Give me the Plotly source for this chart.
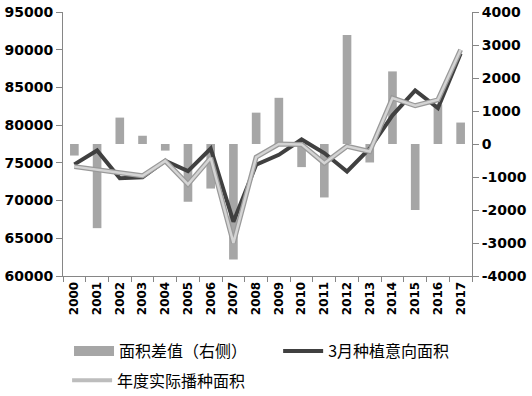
import plotly.graph_objects as go

years = [str(y) for y in range(2000, 2018)]
diff_right = [-350, -2550, 800, 250, -200, -1750, -1350, -3500, 950, 1400,
              -700, -1620, 3300, -560, 2200, -2000, 1200, 650]
march_intent = [74800, 76640, 72950, 73100, 75280, 73900, 76900, 67200, 74750, 76060,
                78100, 76300, 73850, 76900, 81300, 84600, 82260, 89500]
actual_planted = [74500, 74080, 73700, 73280, 75250, 72150, 75650, 64400, 75750, 77500,
                  77450, 74950, 77200, 76500, 83600, 82570, 83360, 90000]

left_ticks = [60000, 65000, 70000, 75000, 80000, 85000, 90000, 95000]
left_labels = ["60000", "65000", "70000", "75000", "80000", "85000", "90000", "95000"]
right_ticks = [-4000, -3000, -2000, -1000, 0, 1000, 2000, 3000, 4000]
right_labels = ["-4000", "-3000", "-2000", "-1000", "0", "1000", "2000", "3000", "4000"]

BAR_NAME = "面积差值（右侧）"
INTENT_NAME = "3月种植意向面积"
ACTUAL_NAME = "年度实际播种面积"

tickfont = dict(family="DejaVu Sans", size=14, color="#000000", weight="bold")
legfont = dict(family="Noto Sans CJK SC", size=16, color="#000000")

fig = go.Figure()
fig.add_trace(go.Bar(x=years, y=diff_right, name=BAR_NAME,
                     marker=dict(color="#a6a6a6", line=dict(width=0)),
                     yaxis="y", showlegend=False))
fig.add_trace(go.Scatter(x=years, y=march_intent, name=INTENT_NAME,
                         mode="lines", line=dict(color="#404040", width=4),
                         yaxis="y2", showlegend=False))
fig.add_trace(go.Scatter(x=years, y=actual_planted, name=ACTUAL_NAME,
                         mode="lines", line=dict(color="#9a9a9a", width=5),
                         yaxis="y2", showlegend=False))
fig.add_trace(go.Scatter(x=years, y=actual_planted, name=ACTUAL_NAME,
                         mode="lines", line=dict(color="#d4d4d4", width=2.5),
                         yaxis="y2", showlegend=False))
# legend entries
fig.add_trace(go.Scatter(x=[None], y=[None], name=BAR_NAME, mode="lines",
                         line=dict(color="#a6a6a6", width=10), yaxis="y2",
                         legend="legend", hoverinfo="skip"))
fig.add_trace(go.Scatter(x=[None], y=[None], name=INTENT_NAME, mode="lines",
                         line=dict(color="#404040", width=4), yaxis="y2",
                         legend="legend3", hoverinfo="skip"))
fig.add_trace(go.Scatter(x=[None], y=[None], name=ACTUAL_NAME, mode="lines",
                         line=dict(color="#bdbdbd", width=4), yaxis="y2",
                         legend="legend2", hoverinfo="skip"))

leg_common = dict(orientation="h", xanchor="left", yanchor="top",
                  font=legfont, itemwidth=40, bgcolor="rgba(0,0,0,0)")

fig.update_layout(
    width=532, height=396,
    margin=dict(l=63, r=60, t=12, b=120, autoexpand=False),
    paper_bgcolor="white", plot_bgcolor="white",
    bargap=0.62,
    showlegend=True,
    legend=dict(x=0.0147, y=-0.22, **leg_common),
    legend3=dict(x=0.526, y=-0.22, **leg_common),
    legend2=dict(x=0.01, y=-0.331, **leg_common),
    xaxis=dict(type="category", tickangle=-90,
               tickfont=dict(family="DejaVu Sans", size=12, color="#000000", weight="bold"),
               showline=True, linecolor="#868686", linewidth=1,
               ticks="outside", ticklen=5, tickcolor="#868686", tickson="boundaries",
               showgrid=False, zeroline=False, automargin=False),
    yaxis=dict(side="right", range=[-4000, 4000], tickvals=right_ticks, ticktext=right_labels,
               tickfont=tickfont, showline=True, linecolor="#868686", linewidth=1,
               ticks="outside", ticklen=6, tickcolor="#868686",
               showgrid=False, zeroline=False, automargin=False),
    yaxis2=dict(side="left", overlaying="y", range=[60000, 95000], tickvals=left_ticks,
                ticktext=left_labels,
                tickfont=tickfont, showline=True, linecolor="#868686", linewidth=1,
                ticks="outside", ticklen=6, tickcolor="#868686",
                showgrid=False, zeroline=False, automargin=False),
)

fig.write_html("out.html", config={"displayModeBar": False},
               post_script="document.body.style.margin='0px';")
